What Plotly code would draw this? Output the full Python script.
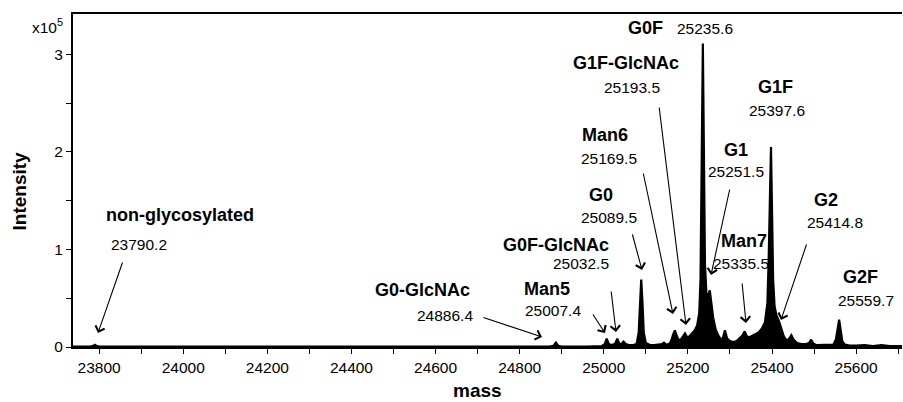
import plotly.graph_objects as go

# ---------------- data ----------------
spectrum_mass = [23738, 23780, 23786, 23790, 23794, 23800, 24000, 24400, 24700, 24870,
                 24880, 24886, 24892, 24900, 24960, 24995, 25002, 25007, 25012, 25018,
                 25022, 25027, 25032, 25037, 25042, 25047, 25052, 25060, 25070, 25078,
                 25083, 25086, 25089, 25092, 25095, 25100, 25110, 25120, 25130, 25138,
                 25143, 25148, 25155, 25160, 25165, 25169, 25173, 25178, 25184, 25189,
                 25193, 25198, 25204, 25210, 25216, 25222, 25227, 25230, 25232.5, 25235.5,
                 25238, 25240.5, 25244, 25248, 25252, 25256, 25260, 25266, 25272, 25278,
                 25283, 25288, 25293, 25300, 25308, 25316, 25324, 25330, 25335, 25340,
                 25346, 25352, 25360, 25368, 25376, 25383, 25389, 25392, 25394.5, 25397.5,
                 25400, 25402.5, 25406, 25410, 25416, 25422, 25428, 25434, 25440, 25446,
                 25452, 25460, 25470, 25480, 25488, 25493, 25498, 25505, 25520, 25535,
                 25546, 25552, 25556, 25559.5, 25563, 25567, 25573, 25585, 25600, 25620,
                 25640, 25660, 25680, 25709]
# intensity in units of 1e5
spectrum_intensity = [0.003, 0.004, 0.012, 0.022, 0.012, 0.004, 0.003, 0.003, 0.003, 0.004,
                      0.012, 0.045, 0.012, 0.004, 0.005, 0.008, 0.03, 0.085, 0.03, 0.02,
                      0.025, 0.035, 0.085, 0.035, 0.03, 0.055, 0.03, 0.02, 0.02, 0.03,
                      0.15, 0.45, 0.69, 0.45, 0.15, 0.04, 0.02, 0.02, 0.025, 0.03,
                      0.045, 0.025, 0.03, 0.06, 0.13, 0.17, 0.12, 0.07, 0.08, 0.11,
                      0.14, 0.10, 0.11, 0.14, 0.17, 0.22, 0.35, 0.7, 2.0, 3.11,
                      2.0, 0.85, 0.55, 0.52, 0.58, 0.45, 0.30, 0.18, 0.12, 0.08,
                      0.09, 0.17, 0.09, 0.06, 0.05, 0.06, 0.09, 0.12, 0.16, 0.11,
                      0.10, 0.11, 0.13, 0.15, 0.19, 0.25, 0.45, 0.9, 1.5, 2.05,
                      1.4, 0.7, 0.42, 0.33, 0.27, 0.18, 0.11, 0.07, 0.08, 0.12,
                      0.07, 0.04, 0.03, 0.03, 0.04, 0.075, 0.035, 0.02, 0.02, 0.02,
                      0.025, 0.08, 0.2, 0.28, 0.18, 0.06, 0.025, 0.015, 0.015, 0.02,
                      0.01, 0.02, 0.01, 0.01]
assert len(spectrum_mass) == len(spectrum_intensity)

peak_names = ["non-glycosylated", "G0-GlcNAc", "Man5", "G0F-GlcNAc", "G0", "Man6",
              "G1F-GlcNAc", "G0F", "G1", "Man7", "G1F", "G2", "G2F"]
peak_masses = [23790.2, 24886.4, 25007.4, 25032.5, 25089.5, 25169.5,
               25193.5, 25235.6, 25251.5, 25335.5, 25397.6, 25414.8, 25559.7]

x_ticks = [23800, 24000, 24200, 24400, 24600, 24800, 25000, 25200, 25400, 25600]
y_ticks = [0, 1, 2, 3]

# ---------------- layout (pixels) ----------------
W, H = 903, 402
L, R, T, B = 73, 902, 14, 347
X_RANGE = [23738, 25709]
Y_RANGE = [0, 3.412]
FONT = "Liberation Sans, Arial, Helvetica, sans-serif"

def paper(px, py):
    return (px - L) / (R - L), (B - py) / (B - T)

def data_from_px(px, py):
    m = X_RANGE[0] + (px - L) / (R - L) * (X_RANGE[1] - X_RANGE[0])
    v = Y_RANGE[0] + (B - py) / (B - T) * (Y_RANGE[1] - Y_RANGE[0])
    return m, v

# label placement: (name center px, name center py, mass center px, mass center py)
label_pos = [
    (180, 215, 138.5, 244),
    (422.5, 290, 445, 315),
    (547, 289, 553, 310),
    (555.5, 245, 580.5, 263),
    (601, 195, 609, 217),
    (605, 135, 609, 158),
    (625.5, 63, 632, 87),
    (645, 28, 705, 28),
    (736, 150, 736, 171),
    (744, 241, 741, 263),
    (775, 87, 777, 110),
    (826, 200, 835, 223),
    (860, 277, 866, 300),
]
# arrows: (tail px, tail py, head px, head py) or None
arrow_pos = [
    (123, 261, 98, 333),
    (482, 317, 542, 337),
    (592, 313, 605, 333),
    (611, 290, 616, 332),
    (632, 233, 642, 270),
    (643, 172, 673, 314),
    (659, 106, 686, 325),
    None,
    (730, 188, 711, 275),
    (742, 282, 746, 323),
    None,
    (807, 243, 781, 320),
    None,
]

fig = go.Figure()
fig.add_trace(go.Scatter(
    x=spectrum_mass, y=spectrum_intensity, mode="lines",
    line=dict(color="black", width=2.2), fill="tozeroy", fillcolor="black",
    hoverinfo="skip", showlegend=False))

annotations = []
for name, mass, pos, arr in zip(peak_names, peak_masses, label_pos, arrow_pos):
    nx, ny, mx, my = pos
    px_, py_ = paper(nx, ny)
    annotations.append(dict(x=px_, y=py_, xref="paper", yref="paper", text="<b>%s</b>" % name,
                            showarrow=False, xanchor="center", yanchor="middle",
                            font=dict(family=FONT, size=18, color="black")))
    px_, py_ = paper(mx, my)
    annotations.append(dict(x=px_, y=py_, xref="paper", yref="paper", text="%.1f" % mass,
                            showarrow=False, xanchor="center", yanchor="middle",
                            font=dict(family=FONT, size=15.5, color="black")))
    if arr is not None:
        tx, ty, hx, hy = arr
        hm, hv = data_from_px(hx, hy)
        annotations.append(dict(x=hm, y=hv, xref="x", yref="y", text="",
                                showarrow=True, ax=tx - hx, ay=ty - hy,
                                axref="pixel", ayref="pixel",
                                arrowhead=4, arrowsize=1.7, arrowwidth=1.1,
                                arrowcolor="black", standoff=0))

# axis titles and exponent
ix, iy = paper(18.5, 191)
annotations.append(dict(x=ix, y=iy, xref="paper", yref="paper", text="<b>Intensity</b>",
                        textangle=-90, showarrow=False, xanchor="center", yanchor="middle",
                        font=dict(family=FONT, size=19, color="black")))
mx_, my_ = paper(477.5, 391)
annotations.append(dict(x=mx_, y=my_, xref="paper", yref="paper", text="<b>mass</b>",
                        showarrow=False, xanchor="center", yanchor="middle",
                        font=dict(family=FONT, size=19, color="black")))
ex, ey = paper(47.5, 26)
annotations.append(dict(x=ex, y=ey, xref="paper", yref="paper", text="x10<sup>5</sup>",
                        showarrow=False, xanchor="center", yanchor="middle",
                        font=dict(family=FONT, size=15.5, color="black")))

fig.update_layout(
    width=W, height=H,
    margin=dict(l=L, r=W - R, t=T, b=H - B, pad=0),
    paper_bgcolor="white", plot_bgcolor="white",
    font=dict(family=FONT, color="black"),
    annotations=annotations,
    xaxis=dict(range=X_RANGE, tickvals=x_ticks, ticktext=[str(v) for v in x_ticks],
               ticks="outside", ticklen=5, tickwidth=1.3, tickcolor="black",
               minor=dict(dtick=100, tick0=23800, ticks="outside", ticklen=5,
                          tickwidth=1.3, tickcolor="black"),
               showline=True, linecolor="black", linewidth=2, mirror=True,
               showgrid=False, zeroline=False,
               tickfont=dict(family=FONT, size=15.5, color="black")),
    yaxis=dict(range=Y_RANGE, tickvals=y_ticks, ticktext=[str(v) for v in y_ticks],
               ticks="outside", ticklen=5, tickwidth=1.3, tickcolor="black",
               minor=dict(dtick=0.5, tick0=0, ticks="outside", ticklen=5,
                          tickwidth=1.3, tickcolor="black"),
               showline=True, linecolor="black", linewidth=2, mirror=False,
               showgrid=False, zeroline=False,
               tickfont=dict(family=FONT, size=15.5, color="black")),
)

fig.write_html(
    "out.html",
    config={"displayModeBar": False},
    post_script="document.body.style.margin='0';document.body.style.overflow='hidden';",
)
